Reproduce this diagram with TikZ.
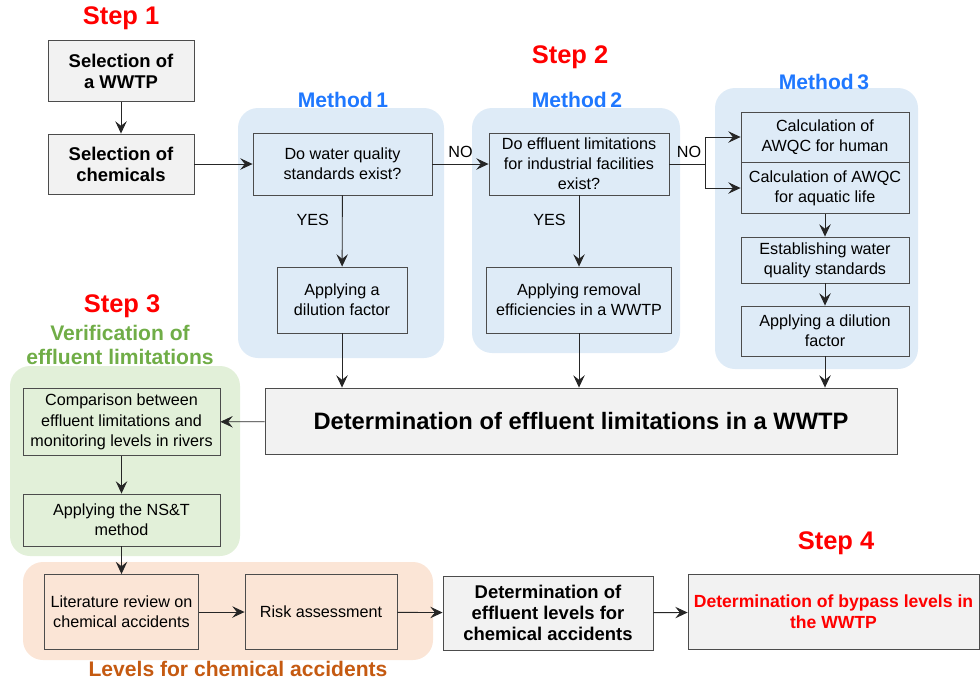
\documentclass[tikz,border=0pt]{standalone}
\usepackage{fontspec}
\setmainfont{Liberation Sans}
\usetikzlibrary{calc,arrows.meta,positioning}

\definecolor{regblue}{RGB}{222,235,247}
\definecolor{reggreen}{RGB}{226,240,217}
\definecolor{regorange}{RGB}{251,229,214}
\definecolor{methblue}{RGB}{31,120,255}
\definecolor{vergreen}{RGB}{112,173,71}
\definecolor{accorange}{RGB}{197,90,17}
\definecolor{steprot}{RGB}{255,0,0}

\begin{document}
\begin{tikzpicture}[x=0.02cm,y=-0.02cm,
    box/.style={draw=black!70,line width=0.5pt,align=center,inner sep=2pt,
      font=\fontsize{9.2}{11.5}\selectfont},
    greybox/.style={box,fill=black!5,font=\fontsize{10.5}{12}\selectfont\bfseries},
    arr/.style={-{Stealth[length=7pt,width=6.5pt,inset=2.6pt]},line width=0.5pt,draw=black!85},
    steplabel/.style={text=steprot,font=\fontsize{14.5}{16}\selectfont\bfseries},
    methlabel/.style={text=methblue,font=\fontsize{12}{14}\selectfont\bfseries},
    answer/.style={font=\fontsize{9.2}{11.5}\selectfont}]
        \useasboundingbox (0,0) rectangle (980,680);
        % 背景区域
        \fill[regblue,rounded corners=0.4cm] (238,108) rectangle (444,358);
        \fill[regblue,rounded corners=0.4cm] (472,108) rectangle (680,353);
        \fill[regblue,rounded corners=0.4cm] (715,88) rectangle (918,369);
        \fill[reggreen,rounded corners=0.4cm] (10,366) rectangle (240,556);
        \fill[regorange,rounded corners=0.4cm] (23,562) rectangle (433,660);
        % 步骤标题
        \node[steplabel] (st1) at (121,18) {Step 1};
        \node[steplabel] (st2) at (570,57) {Step 2};
        \node[steplabel] (st3) at (122,306) {Step 3};
        \node[steplabel] (st4) at (836,543) {Step 4};
        \node[methlabel] (mt1) at (343,100) {Method\,1};
        \node[methlabel] (mt2) at (577,100) {Method\,2};
        \node[methlabel] (mt3) at (824,82) {Method\,3};
        \node[text=vergreen,align=center,font=\fontsize{12}{14}\selectfont\bfseries] (ver) at (120,345) {Verification of\\effluent limitations};
        \node[text=accorange,font=\fontsize{12}{14}\selectfont\bfseries] (lev) at (238,669) {Levels for chemical accidents};
        % 第一步
        \node[greybox,minimum width=2.92cm,minimum height=1.22cm] (wwtp) at (121,71) {Selection of\\a WWTP};
        \node[greybox,minimum width=2.92cm,minimum height=1.2cm] (chem) at (121,164) {Selection of\\chemicals};
        % 方法一、二
        \node[box,minimum width=3.58cm,minimum height=1.24cm] (wqs) at (342.5,164) {Do water quality\\standards exist?};
        \node[box,minimum width=2.6cm,minimum height=1.32cm] (dil1) at (342,300) {Applying a\\dilution factor};
        \node[box,minimum width=3.6cm,minimum height=1.24cm] (elim) at (579,164) {Do effluent limitations\\for industrial facilities\\exist?};
        \node[box,minimum width=3.7cm,minimum height=1.32cm] (rem) at (579,300) {Applying removal\\efficiencies in a WWTP};
        % 方法三
        \node[box,minimum width=3.36cm,minimum height=1.0cm] (hum) at (825,137) {Calculation of\\AWQC for human};
        \node[box,minimum width=3.36cm,minimum height=1.02cm] (aqu) at (825,188) {Calculation of AWQC\\for aquatic life};
        \node[box,minimum width=3.36cm,minimum height=0.92cm] (est) at (825,260) {Establishing water\\quality standards};
        \node[box,minimum width=3.36cm,minimum height=1.0cm] (dil3) at (825,331) {Applying a dilution\\factor};
        \node[box,fill=black!5,minimum width=12.64cm,minimum height=1.32cm,font=\fontsize{13.5}{15}\selectfont\bfseries] (det) at (581,421) {Determination of effluent limitations in a WWTP};
        % 第三步
        \node[box,minimum width=3.94cm,minimum height=1.34cm] (comp) at (121.5,422) {Comparison between\\effluent limitations and\\monitoring levels in rivers};
        \node[box,minimum width=3.94cm,minimum height=1.04cm] (nst) at (121.5,520) {Applying the NS\&T\\method};
        \node[box,minimum width=3.08cm,minimum height=1.5cm] (lit) at (121.5,612) {Literature review on\\chemical accidents};
        \node[box,minimum width=3.04cm,minimum height=1.5cm] (risk) at (321,612) {Risk assessment};
        \node[greybox,minimum width=4.2cm,minimum height=1.48cm] (eff) at (548,613) {Determination of\\effluent levels for\\chemical accidents};
        \node[greybox,text=steprot,minimum width=5.82cm,minimum height=1.5cm,font=\fontsize{10}{12}\selectfont\bfseries] (byp) at (833.5,612) {Determination of bypass levels in\\the WWTP};
        % 连线
        \coordinate (sp) at (705,164);
        \draw[arr] (wwtp) -- (chem);
        \draw[arr] (chem) -- (wqs);
        \draw[arr] (wqs) -- node[answer,above]{NO} (elim);
        \draw[arr] (wqs) -- node[answer,left,pos=0.35,xshift=-4pt]{YES} (dil1);
        \draw[arr] (elim) -- node[answer,left,pos=0.35,xshift=-4pt]{YES} (rem);
        \draw[line width=0.5pt,draw=black!85] (elim) -- node[answer,above,pos=0.55]{NO} (sp);
        \draw[arr] (sp) |- (hum);
        \draw[arr] (sp) |- (aqu);
        \draw[arr] (aqu) -- (est);
        \draw[arr] (est) -- (dil3);
        \draw[arr] (dil1) -- (dil1 |- det.north);
        \draw[arr] (rem) -- (rem |- det.north);
        \draw[arr] (dil3) -- (dil3 |- det.north);
        \draw[arr] (det) -- (comp);
        \draw[arr] (comp) -- (nst);
        \draw[arr] (nst) -- (lit);
        \draw[arr] (lit) -- (risk);
        \draw[arr] (risk) -- (eff);
        \draw[arr] (eff) -- (byp);
\end{tikzpicture}
\end{document}
